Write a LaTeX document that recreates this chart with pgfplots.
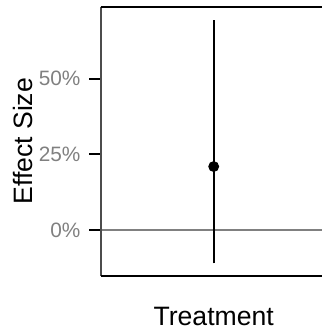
\documentclass[border=0pt]{standalone}
\usepackage{pgfplots}
\pgfplotsset{compat=1.18}
\usepackage{fontspec}
\setmainfont{Liberation Sans}
\begin{document}
\begin{tikzpicture}
\begin{axis}[
  at={(0,0)}, anchor=south west,
  scale only axis, width=113pt, height=134.45pt,
  xmin=0, xmax=2, ymin=-15, ymax=73.7,
  axis line style={draw=none},
  xtick=\empty,
  ytick={0,25,50}, yticklabels={0\%,25\%,50\%},
  tick align=outside, major tick length=5.6pt,
  tick style={black, line width=1pt},
  ytick pos=left,
  yticklabel style={font=\fontsize{10.4}{12}\selectfont, text=black!50, inner sep=0pt, xshift=-4.3pt},
  /pgf/number format/assume math mode=true,
  xlabel={Treatment}, ylabel={Effect Size},
  xlabel style={at={(axis description cs:0.5,0)}, anchor=base, yshift=-24.65pt, font=\fontsize{13.3}{15}\selectfont, inner sep=0pt},
  ylabel style={at={(axis description cs:0,0.5)}, anchor=base, yshift=34pt, font=\fontsize{13.3}{15}\selectfont, inner sep=0pt},
  clip=false,
]
\draw[black!50, line width=1pt] (axis cs:0,0) -- (axis cs:2,0);
\addplot[black, line width=1.1pt, no marks] coordinates {(1,-10.9) (1,69.4)};
\addplot[only marks, mark=*, mark size=2.5pt, black] coordinates {(1,21)};
\draw[black!70, line width=1pt] (rel axis cs:0,0) -- (rel axis cs:0,1);
\draw[black, line width=1pt] (rel axis cs:0,1) -- (rel axis cs:1,1);
\draw[black, line width=1pt] (rel axis cs:0,0) -- (rel axis cs:1,0);
\end{axis}
\pgfresetboundingbox
\useasboundingbox (-50.35pt,-27.65pt) rectangle (110.15pt,137.85pt);
\end{tikzpicture}
\end{document}
